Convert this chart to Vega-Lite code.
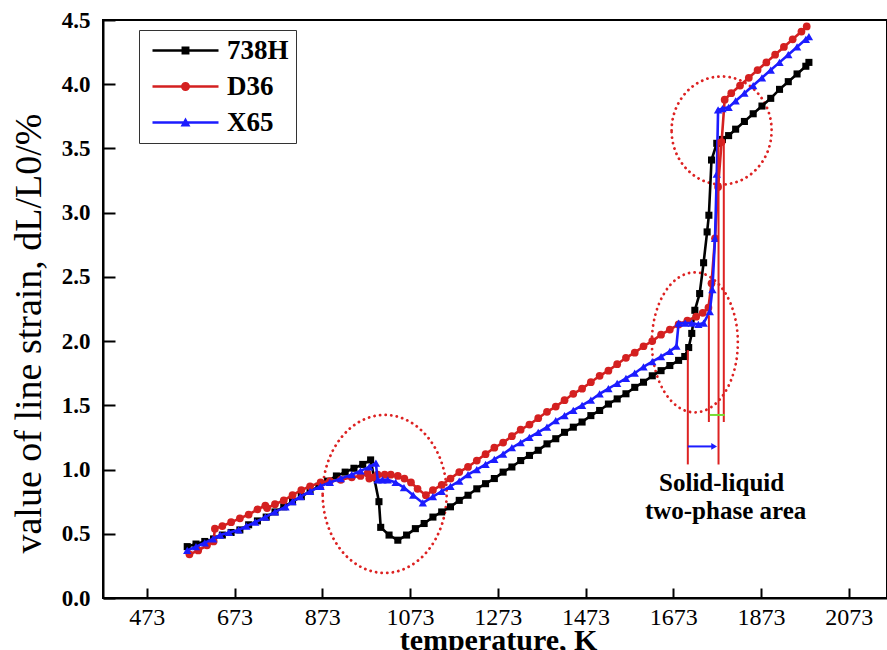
{
"$schema": "https://vega.github.io/schema/vega-lite/v6.json",
"autosize": {"type": "none"},
"padding": {"left": 103, "top": 20, "right": 0, "bottom": 52},
"width": 784,
"height": 578,
"config": {
  "view": {"stroke": "#000", "strokeWidth": 2},
  "font": "Liberation Serif",
  "legend": {
    "orient": "none", "legendX": 36, "legendY": 10,
    "symbolSize": 484, "symbolOffset": 26, "labelOffset": 28,
    "symbolStrokeWidth": 0, "symbolOpacity": 1,
    "labelFont": "Liberation Serif", "labelFontSize": 27, "labelFontWeight": "bold", "labelColor": "#000",
    "strokeColor": "#333", "fillColor": "#fff", "padding": 7, "rowPadding": 8
  }
},
"datasets": {
  "curves": [
    {"s":"738H","t":565,"v":0.40},{"s":"738H","t":585,"v":0.42},{"s":"738H","t":605,"v":0.44},{"s":"738H","t":625,"v":0.46},{"s":"738H","t":645,"v":0.49},{"s":"738H","t":665,"v":0.51},{"s":"738H","t":685,"v":0.53},{"s":"738H","t":705,"v":0.57},{"s":"738H","t":725,"v":0.60},{"s":"738H","t":745,"v":0.63},{"s":"738H","t":765,"v":0.67},{"s":"738H","t":785,"v":0.71},{"s":"738H","t":805,"v":0.75},{"s":"738H","t":825,"v":0.79},{"s":"738H","t":845,"v":0.83},{"s":"738H","t":865,"v":0.87},{"s":"738H","t":885,"v":0.91},{"s":"738H","t":905,"v":0.95},{"s":"738H","t":925,"v":0.98},{"s":"738H","t":945,"v":1.01},{"s":"738H","t":965,"v":1.04},{"s":"738H","t":983,"v":1.075},{"s":"738H","t":1002,"v":0.75},{"s":"738H","t":1006,"v":0.55},{"s":"738H","t":1025,"v":0.49},{"s":"738H","t":1045,"v":0.45},{"s":"738H","t":1065,"v":0.49},{"s":"738H","t":1085,"v":0.54},{"s":"738H","t":1105,"v":0.58},{"s":"738H","t":1125,"v":0.63},{"s":"738H","t":1145,"v":0.67},{"s":"738H","t":1165,"v":0.71},{"s":"738H","t":1185,"v":0.76},{"s":"738H","t":1205,"v":0.80},{"s":"738H","t":1225,"v":0.85},{"s":"738H","t":1245,"v":0.89},{"s":"738H","t":1265,"v":0.93},{"s":"738H","t":1285,"v":0.98},{"s":"738H","t":1305,"v":1.02},{"s":"738H","t":1325,"v":1.07},{"s":"738H","t":1345,"v":1.11},{"s":"738H","t":1365,"v":1.15},{"s":"738H","t":1385,"v":1.20},{"s":"738H","t":1405,"v":1.24},{"s":"738H","t":1425,"v":1.29},{"s":"738H","t":1445,"v":1.33},{"s":"738H","t":1465,"v":1.37},{"s":"738H","t":1485,"v":1.42},{"s":"738H","t":1505,"v":1.46},{"s":"738H","t":1525,"v":1.51},{"s":"738H","t":1545,"v":1.55},{"s":"738H","t":1565,"v":1.59},{"s":"738H","t":1585,"v":1.64},{"s":"738H","t":1605,"v":1.68},{"s":"738H","t":1625,"v":1.73},{"s":"738H","t":1645,"v":1.77},{"s":"738H","t":1665,"v":1.81},{"s":"738H","t":1685,"v":1.85},{"s":"738H","t":1699,"v":1.88},{"s":"738H","t":1708,"v":1.95},{"s":"738H","t":1715,"v":2.06},{"s":"738H","t":1722,"v":2.24},{"s":"738H","t":1733,"v":2.37},{"s":"738H","t":1742,"v":2.61},{"s":"738H","t":1750,"v":2.85},{"s":"738H","t":1754,"v":2.98},{"s":"738H","t":1760,"v":3.41},{"s":"738H","t":1772,"v":3.54},{"s":"738H","t":1785,"v":3.57},{"s":"738H","t":1799,"v":3.60},{"s":"738H","t":1815,"v":3.65},{"s":"738H","t":1835,"v":3.71},{"s":"738H","t":1855,"v":3.77},{"s":"738H","t":1875,"v":3.83},{"s":"738H","t":1895,"v":3.89},{"s":"738H","t":1915,"v":3.96},{"s":"738H","t":1935,"v":4.02},{"s":"738H","t":1955,"v":4.08},{"s":"738H","t":1975,"v":4.14},{"s":"738H","t":1982,"v":4.17},
    {"s":"D36","t":570,"v":0.34},{"s":"D36","t":590,"v":0.37},{"s":"D36","t":610,"v":0.41},{"s":"D36","t":625,"v":0.44},{"s":"D36","t":628,"v":0.54},{"s":"D36","t":645,"v":0.56},{"s":"D36","t":665,"v":0.59},{"s":"D36","t":685,"v":0.62},{"s":"D36","t":705,"v":0.65},{"s":"D36","t":725,"v":0.69},{"s":"D36","t":743,"v":0.72},{"s":"D36","t":747,"v":0.70},{"s":"D36","t":765,"v":0.73},{"s":"D36","t":785,"v":0.76},{"s":"D36","t":805,"v":0.80},{"s":"D36","t":825,"v":0.84},{"s":"D36","t":845,"v":0.87},{"s":"D36","t":869,"v":0.90},{"s":"D36","t":890,"v":0.91},{"s":"D36","t":915,"v":0.92},{"s":"D36","t":940,"v":0.94},{"s":"D36","t":960,"v":0.95},{"s":"D36","t":976,"v":0.97},{"s":"D36","t":980,"v":0.93},{"s":"D36","t":990,"v":0.94},{"s":"D36","t":999,"v":0.96},{"s":"D36","t":1015,"v":0.96},{"s":"D36","t":1029,"v":0.96},{"s":"D36","t":1045,"v":0.95},{"s":"D36","t":1060,"v":0.93},{"s":"D36","t":1075,"v":0.90},{"s":"D36","t":1090,"v":0.85},{"s":"D36","t":1109,"v":0.80},{"s":"D36","t":1125,"v":0.84},{"s":"D36","t":1145,"v":0.88},{"s":"D36","t":1165,"v":0.93},{"s":"D36","t":1185,"v":0.98},{"s":"D36","t":1205,"v":1.02},{"s":"D36","t":1225,"v":1.07},{"s":"D36","t":1245,"v":1.12},{"s":"D36","t":1265,"v":1.17},{"s":"D36","t":1285,"v":1.21},{"s":"D36","t":1305,"v":1.26},{"s":"D36","t":1325,"v":1.31},{"s":"D36","t":1345,"v":1.35},{"s":"D36","t":1365,"v":1.40},{"s":"D36","t":1385,"v":1.45},{"s":"D36","t":1405,"v":1.49},{"s":"D36","t":1425,"v":1.54},{"s":"D36","t":1445,"v":1.59},{"s":"D36","t":1465,"v":1.63},{"s":"D36","t":1485,"v":1.68},{"s":"D36","t":1505,"v":1.73},{"s":"D36","t":1525,"v":1.77},{"s":"D36","t":1545,"v":1.82},{"s":"D36","t":1565,"v":1.87},{"s":"D36","t":1585,"v":1.91},{"s":"D36","t":1605,"v":1.96},{"s":"D36","t":1625,"v":2.00},{"s":"D36","t":1645,"v":2.05},{"s":"D36","t":1665,"v":2.09},{"s":"D36","t":1685,"v":2.13},{"s":"D36","t":1705,"v":2.16},{"s":"D36","t":1725,"v":2.19},{"s":"D36","t":1740,"v":2.22},{"s":"D36","t":1753,"v":2.26},{"s":"D36","t":1760,"v":2.45},{"s":"D36","t":1768,"v":2.80},{"s":"D36","t":1775,"v":3.20},{"s":"D36","t":1783,"v":3.55},{"s":"D36","t":1790,"v":3.88},{"s":"D36","t":1805,"v":3.93},{"s":"D36","t":1825,"v":3.99},{"s":"D36","t":1845,"v":4.05},{"s":"D36","t":1865,"v":4.11},{"s":"D36","t":1885,"v":4.17},{"s":"D36","t":1905,"v":4.23},{"s":"D36","t":1925,"v":4.29},{"s":"D36","t":1945,"v":4.35},{"s":"D36","t":1965,"v":4.41},{"s":"D36","t":1977,"v":4.45},
    {"s":"X65","t":565,"v":0.37},{"s":"X65","t":585,"v":0.40},{"s":"X65","t":605,"v":0.43},{"s":"X65","t":624,"v":0.46},{"s":"X65","t":640,"v":0.49},{"s":"X65","t":660,"v":0.51},{"s":"X65","t":682,"v":0.53},{"s":"X65","t":700,"v":0.56},{"s":"X65","t":720,"v":0.59},{"s":"X65","t":743,"v":0.63},{"s":"X65","t":765,"v":0.67},{"s":"X65","t":789,"v":0.71},{"s":"X65","t":805,"v":0.75},{"s":"X65","t":823,"v":0.79},{"s":"X65","t":845,"v":0.83},{"s":"X65","t":869,"v":0.87},{"s":"X65","t":890,"v":0.90},{"s":"X65","t":915,"v":0.93},{"s":"X65","t":940,"v":0.96},{"s":"X65","t":960,"v":0.99},{"s":"X65","t":980,"v":1.02},{"s":"X65","t":995,"v":1.05},{"s":"X65","t":999,"v":0.92},{"s":"X65","t":1010,"v":0.92},{"s":"X65","t":1022,"v":0.92},{"s":"X65","t":1040,"v":0.90},{"s":"X65","t":1059,"v":0.86},{"s":"X65","t":1080,"v":0.80},{"s":"X65","t":1102,"v":0.74},{"s":"X65","t":1125,"v":0.79},{"s":"X65","t":1145,"v":0.83},{"s":"X65","t":1165,"v":0.87},{"s":"X65","t":1185,"v":0.91},{"s":"X65","t":1205,"v":0.96},{"s":"X65","t":1225,"v":1.00},{"s":"X65","t":1245,"v":1.04},{"s":"X65","t":1265,"v":1.08},{"s":"X65","t":1285,"v":1.12},{"s":"X65","t":1305,"v":1.17},{"s":"X65","t":1325,"v":1.21},{"s":"X65","t":1345,"v":1.25},{"s":"X65","t":1365,"v":1.29},{"s":"X65","t":1385,"v":1.33},{"s":"X65","t":1405,"v":1.38},{"s":"X65","t":1425,"v":1.42},{"s":"X65","t":1445,"v":1.46},{"s":"X65","t":1465,"v":1.50},{"s":"X65","t":1485,"v":1.54},{"s":"X65","t":1505,"v":1.59},{"s":"X65","t":1525,"v":1.63},{"s":"X65","t":1545,"v":1.67},{"s":"X65","t":1565,"v":1.71},{"s":"X65","t":1585,"v":1.75},{"s":"X65","t":1605,"v":1.80},{"s":"X65","t":1625,"v":1.84},{"s":"X65","t":1645,"v":1.88},{"s":"X65","t":1665,"v":1.92},{"s":"X65","t":1680,"v":1.96},{"s":"X65","t":1685,"v":2.14},{"s":"X65","t":1700,"v":2.14},{"s":"X65","t":1715,"v":2.14},{"s":"X65","t":1730,"v":2.13},{"s":"X65","t":1742,"v":2.14},{"s":"X65","t":1756,"v":2.23},{"s":"X65","t":1762,"v":2.40},{"s":"X65","t":1768,"v":2.80},{"s":"X65","t":1772,"v":3.30},{"s":"X65","t":1775,"v":3.80},{"s":"X65","t":1785,"v":3.81},{"s":"X65","t":1799,"v":3.82},{"s":"X65","t":1815,"v":3.87},{"s":"X65","t":1835,"v":3.93},{"s":"X65","t":1855,"v":3.99},{"s":"X65","t":1875,"v":4.05},{"s":"X65","t":1895,"v":4.11},{"s":"X65","t":1915,"v":4.17},{"s":"X65","t":1935,"v":4.23},{"s":"X65","t":1955,"v":4.29},{"s":"X65","t":1975,"v":4.35},{"s":"X65","t":1982,"v":4.37}
  ],
  "ell1": [{"t":1015,"v":0.81}],
  "ell2": [{"t":1722,"v":1.99}],
  "ell3": [{"t":1783,"v":3.64}],
  "drops": [{"t":1706,"v":1.93,"v2":1.04},{"t":1754,"v":2.20,"v2":1.37},{"t":1776,"v":3.57,"v2":1.04},{"t":1788,"v":3.57,"v2":1.37}],
  "arrow": [{"t":1706,"t2":1766,"v":1.18}],
  "green": [{"t":1756,"t2":1790,"v":1.425}],
  "notes": [{"label":"Solid-liquid","t":1783,"v":0.833},{"label":"two-phase area","t":1792,"v":0.615}],
  "xminor": [{"t":573},{"t":773},{"t":973},{"t":1173},{"t":1373},{"t":1573},{"t":1773},{"t":1973}],
  "yminor": [{"v":0.25},{"v":0.75},{"v":1.25},{"v":1.75},{"v":2.25},{"v":2.75},{"v":3.25},{"v":3.75},{"v":4.25}]
},
"encoding": {
  "x": {"field": "t", "type": "quantitative", "scale": {"domain": [373, 2160], "nice": false, "zero": false},
    "axis": {"title": "temperature, K", "values": [473,673,873,1073,1273,1473,1673,1873,2073], "format": "d", "grid": false,
      "domainColor": "#000", "domainWidth": 2, "tickColor": "#000", "tickWidth": 2, "tickSize": -10,
      "labelFont": "Liberation Serif", "labelFontSize": 24, "labelColor": "#000", "labelPadding": 17, "labelFlush": false, "labelOverlap": false,
      "titleFont": "Liberation Serif", "titleFontSize": 30, "titleFontWeight": "bold", "titleColor": "#000",
      "titleX": 395, "titleY": 51, "titleAlign": "center", "titleBaseline": "alphabetic"}},
  "y": {"field": "v", "type": "quantitative", "scale": {"domain": [0, 4.5], "nice": false, "zero": false},
    "axis": {"title": "value of line strain, dL/L0/%", "values": [0,0.5,1,1.5,2,2.5,3,3.5,4,4.5], "format": ".1f", "grid": false,
      "domainColor": "#000", "domainWidth": 2, "tickColor": "#000", "tickWidth": 2, "tickSize": -12,
      "labelFont": "Liberation Serif", "labelFontSize": 23, "labelFontWeight": "bold", "labelColor": "#000", "labelPadding": 25, "labelFlush": false, "labelOverlap": false,
      "titleFont": "Liberation Serif", "titleFontSize": 38, "titleFontWeight": "normal", "titleColor": "#000",
      "titleAngle": -90, "titleX": -63, "titleY": 313, "titleAlign": "center", "titleBaseline": "alphabetic"}}
},
"layer": [
  {"data": {"name": "ell1"}, "mark": {"type": "point", "filled": false, "shape": "M-0.785,0A0.785,1,0,1,1,0.785,0A0.785,1,0,1,1,-0.785,0Z", "size": 24964, "stroke": "#dd2222", "strokeWidth": 2.8, "strokeDash": [0.1, 5.5], "strokeCap": "round", "opacity": 1}},
  {"data": {"name": "ell2"}, "mark": {"type": "point", "filled": false, "shape": "M-0.614,0A0.614,1,0,1,1,0.614,0A0.614,1,0,1,1,-0.614,0Z", "size": 19600, "stroke": "#dd2222", "strokeWidth": 2.8, "strokeDash": [0.1, 5.5], "strokeCap": "round", "opacity": 1}},
  {"data": {"name": "ell3"}, "mark": {"type": "point", "filled": false, "shape": "M-0.926,0A0.926,1,0,1,1,0.926,0A0.926,1,0,1,1,-0.926,0Z", "size": 11664, "stroke": "#dd2222", "strokeWidth": 2.8, "strokeDash": [0.1, 5.5], "strokeCap": "round", "opacity": 1}},
  {"data": {"name": "curves"}, "transform": [{"filter": "datum.s === '738H'"}],
   "mark": {"type": "line", "color": "#000000", "strokeWidth": 2.6, "point": {"filled": true, "shape": "square", "size": 50, "color": "#000000", "opacity": 1}}},
  {"data": {"name": "curves"}, "transform": [{"filter": "datum.s === 'D36'"}],
   "mark": {"type": "line", "color": "#d42020", "strokeWidth": 2.6, "point": {"filled": true, "shape": "circle", "size": 60, "color": "#d42020", "opacity": 1}}},
  {"data": {"name": "curves"}, "transform": [{"filter": "datum.s === 'X65'"}],
   "mark": {"type": "line", "color": "#1c1cff", "strokeWidth": 2.6, "point": {"filled": true, "shape": "triangle-up", "size": 70, "color": "#1c1cff", "opacity": 1}}},
  {"data": {"name": "drops"}, "mark": {"type": "rule", "color": "#dd2222", "strokeWidth": 2}, "encoding": {"y2": {"field": "v2"}}},
  {"data": {"name": "arrow"}, "mark": {"type": "rule", "color": "#1c1cff", "strokeWidth": 2}, "encoding": {"x2": {"field": "t2"}}},
  {"data": {"name": "arrow"}, "mark": {"type": "point", "shape": "triangle-right", "filled": true, "size": 45, "color": "#1c1cff", "opacity": 1}, "encoding": {"x": {"field": "t2", "type": "quantitative"}}},
  {"data": {"name": "green"}, "mark": {"type": "rule", "color": "#77dd33", "strokeWidth": 2}, "encoding": {"x2": {"field": "t2"}}},
  {"data": {"name": "notes"}, "mark": {"type": "text", "font": "Liberation Serif", "fontSize": 25, "fontWeight": "bold", "color": "#000", "align": "center", "baseline": "alphabetic"}, "encoding": {"text": {"field": "label"}}},
  {"data": {"name": "xminor"}, "mark": {"type": "rule", "color": "#000", "strokeWidth": 2}, "encoding": {"y": {"datum": 0}, "y2": {"datum": 0.047}}},
  {"data": {"name": "yminor"}, "mark": {"type": "rule", "color": "#000", "strokeWidth": 2}, "encoding": {"x": {"datum": 373}, "x2": {"datum": 389}}},
  {"data": {"name": "curves"}, "transform": [{"filter": "false"}],
   "mark": {"type": "point", "filled": true, "opacity": 1},
   "encoding": {
     "color": {"field": "s", "type": "nominal", "scale": {"domain": ["738H","D36","X65"], "range": ["#000000","#d42020","#1c1cff"]}, "legend": {"title": null}},
     "shape": {"field": "s", "type": "nominal", "scale": {"domain": ["738H","D36","X65"], "range": [
       "M-3,-0.11H3V0.11H-3ZM-0.36,-0.36H0.36V0.36H-0.36Z",
       "M-3,-0.11H3V0.11H-3ZM-0.41,0A0.41,0.41,0,1,1,0.41,0A0.41,0.41,0,1,1,-0.41,0Z",
       "M-3,-0.11H3V0.11H-3ZM0,-0.45L0.45,0.36L-0.45,0.36Z"]}, "legend": {"title": null}}
   }}
]
}
